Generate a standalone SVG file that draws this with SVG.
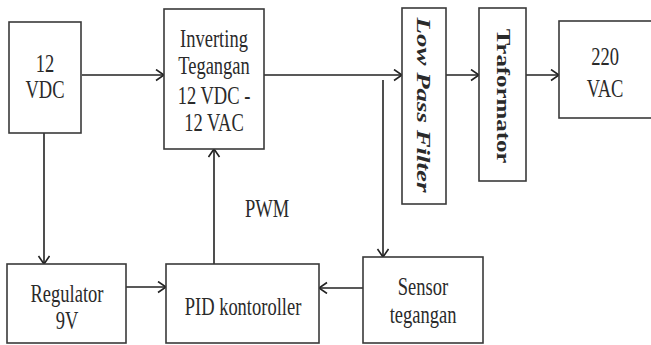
<svg xmlns="http://www.w3.org/2000/svg" width="651" height="345" viewBox="0 0 651 345">
<defs>
<style>
.box{fill:#fff;stroke:#3a3a3a;stroke-width:1.6}
.sh{fill:none;stroke:#b0b0b0;stroke-width:1.2}
.ln{fill:none;stroke:#222;stroke-width:1.6;marker-end:url(#ah)}
.ln0{fill:none;stroke:#222;stroke-width:1.6}
.t{font-family:"Liberation Serif","Times New Roman",serif;font-size:18.5px;fill:#2a2a2a;text-anchor:middle}
.tb{font-weight:bold}
.ti{font-style:italic}
</style>
<marker id="ah" markerUnits="userSpaceOnUse" markerWidth="12" markerHeight="14" refX="9" refY="6" orient="auto">
<path d="M1,0.5 L9,6 L1,11.5" fill="none" stroke="#222" stroke-width="1.6"/>
</marker>
</defs>
<rect width="651" height="345" fill="#fff"/>
<g id="connectors">
<path class="ln" d="M82,75 H164"/>
<path class="ln" d="M264,75 H402"/>
<path class="ln" d="M446,75 H479"/>
<path class="ln" d="M526,75 H559"/>
<path class="ln" d="M383,80 V257"/>
<path class="ln" d="M44,133 V264"/>
<path class="ln" d="M126,287 H166"/>
<path class="ln" d="M363,288 H319"/>
<path class="ln" d="M214,264 V149"/>
</g>
<g id="n12vdc">
<rect class="box" x="9" y="22" width="72" height="111"/>
<text class="t" transform="translate(45 72) scale(1 1.38)">12</text>
<text class="t" transform="translate(45 98) scale(1 1.38)">VDC</text>
</g>
<g id="inverting">
<rect class="box" x="164" y="9" width="100" height="140"/>
<text class="t" transform="translate(214 47) scale(1 1.38)">Inverting</text>
<text class="t" transform="translate(214 74) scale(1 1.38)">Tegangan</text>
<text class="t" transform="translate(214 104) scale(1 1.38)">12 VDC -</text>
<text class="t" transform="translate(214 131) scale(1 1.38)">12 VAC</text>
</g>
<g id="lpf">
<rect class="box" x="402" y="8" width="44" height="196"/>
<text class="t tb ti" style="font-size:19.5px" transform="translate(424 105) scale(1 1.38) rotate(90)" y="6.5">Low Pass Filter</text>
</g>
<g id="trafo">
<rect class="box" x="479" y="8" width="47" height="173"/>
<text class="t tb" style="font-size:18px" transform="translate(503 96) scale(1 1.38) rotate(90)" y="6">Traformator</text>
</g>
<g id="vac220">
<rect class="box" x="559" y="21" width="100" height="97"/>
<text class="t" transform="translate(605 65) scale(1 1.38)">220</text>
<text class="t" transform="translate(605 97) scale(1 1.38)">VAC</text>
</g>
<g id="regulator">
<rect class="box" x="7" y="264" width="119" height="79"/>
<text class="t" transform="translate(67 302) scale(1 1.38)">Regulator</text>
<text class="t" transform="translate(67 329) scale(1 1.38)">9V</text>
</g>
<g id="pid">
<rect class="box" x="166" y="264" width="153" height="79"/>
<text class="t" transform="translate(243 315) scale(1 1.38)">PID kontoroller</text>
</g>
<g id="sensor">
<rect class="box" x="363" y="257" width="120" height="86"/>
<text class="t" transform="translate(423 295) scale(1 1.38)">Sensor</text>
<text class="t" transform="translate(423 323) scale(1 1.38)">tegangan</text>
</g>
<g id="pwm">
<text class="t" transform="translate(267 217) scale(1 1.38)">PWM</text>
</g>
</svg>
